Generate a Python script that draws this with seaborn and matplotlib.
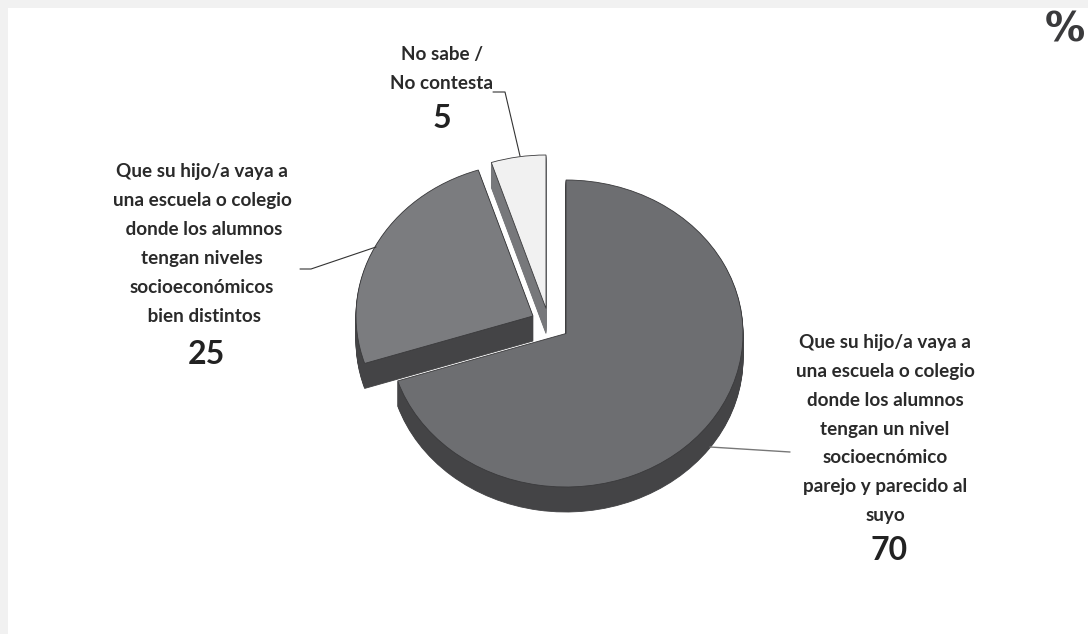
import numpy as np
import seaborn as sns
import matplotlib.pyplot as plt
from matplotlib.patches import Rectangle

sns.set_theme(style="white")
plt.rcParams['font.family'] = ['Lato', 'DejaVu Sans']

labels = [
    "Que su hijo/a vaya a\nuna escuela o colegio\ndonde los alumnos\ntengan un nivel\nsocioecnómico\nparejo y parecido al\nsuyo",
    "Que su hijo/a vaya a\nuna escuela o colegio\n donde los alumnos\ntengan niveles\nsocioeconómicos\n bien distintos",
    "No sabe /\nNo contesta",
]
values = [70, 25, 5]

top_colors = ['#6d6e71', '#7b7c7f', '#f1f1f1']
side_colors = ['#444446', '#444446', '#77787b']

W, H = 1088, 634
RX, RY = 177, 153.5
DEPTH = 25
# slice apex in pixels
apex = [(566, 333.5), (533, 316), (546, 308.5)]
draw_order = [0, 2, 1]

fig = plt.figure(figsize=(W / 100, H / 100), dpi=100, facecolor='#f1f1f1')
ax = fig.add_axes([0, 0, 1, 1])


def px(x):
    return x / RX


def py(y):
    return (H - y) / RY


starts = 90 - np.cumsum([0] + values[:-1]) * 3.6

for i in draw_order:
    cx, cy = apex[i]
    frac = values[i] / 100
    # stack of dark copies makes the 3d side
    for d in np.arange(DEPTH, 0, -1):
        ax.pie([frac], startangle=starts[i], counterclock=False, normalize=False,
               center=(px(cx), py(cy + d)), radius=1, colors=[side_colors[i]],
               wedgeprops={'linewidth': 0.6, 'edgecolor': side_colors[i]}, frame=True)
    ax.pie([frac], startangle=starts[i], counterclock=False, normalize=False,
           center=(px(cx), py(cy)), radius=1, colors=[top_colors[i]],
           wedgeprops={'linewidth': 0.6, 'edgecolor': '#3a3a3c'}, frame=True)

ax.set_aspect('auto')
ax.set_xlim(0, W / RX)
ax.set_ylim(0, H / RY)
ax.axis('off')
ax.add_patch(Rectangle((px(8), py(H)), px(W), py(8), facecolor='white', edgecolor='none', zorder=-5))

# leader lines
ax.plot([px(300), px(311), px(376)], [py(269), py(269), py(247)], color='#333333', lw=0.8, zorder=5)
ax.plot([px(493), px(505), px(520)], [py(92), py(92), py(156)], color='#333333', lw=0.8, zorder=5)
ax.plot([px(710), px(790)], [py(447), py(452)], color='#777777', lw=1.0, zorder=5)

txt = dict(ha='center', va='center', color='#2a2a2a', fontsize=13.6, fontweight='bold', linespacing=1.85)
num = dict(ha='center', va='center', color='#222222', fontsize=23, fontweight='bold')

ax.text(px(885), py(429), labels[0], **txt)
ax.text(px(889), py(550), str(values[0]), **num)
ax.text(px(202), py(244), labels[1], **txt)
ax.text(px(206), py(354), str(values[1]), **num)
ax.text(px(442), py(69), labels[2], **txt)
ax.text(px(442), py(119), str(values[2]), **num)

ax.text(px(1065), py(31), '%', ha='center', va='center', color='#3a3a3c', fontsize=29,
        fontweight='bold', family='DejaVu Sans')

fig.savefig('out.png', dpi=100, facecolor=fig.get_facecolor())
